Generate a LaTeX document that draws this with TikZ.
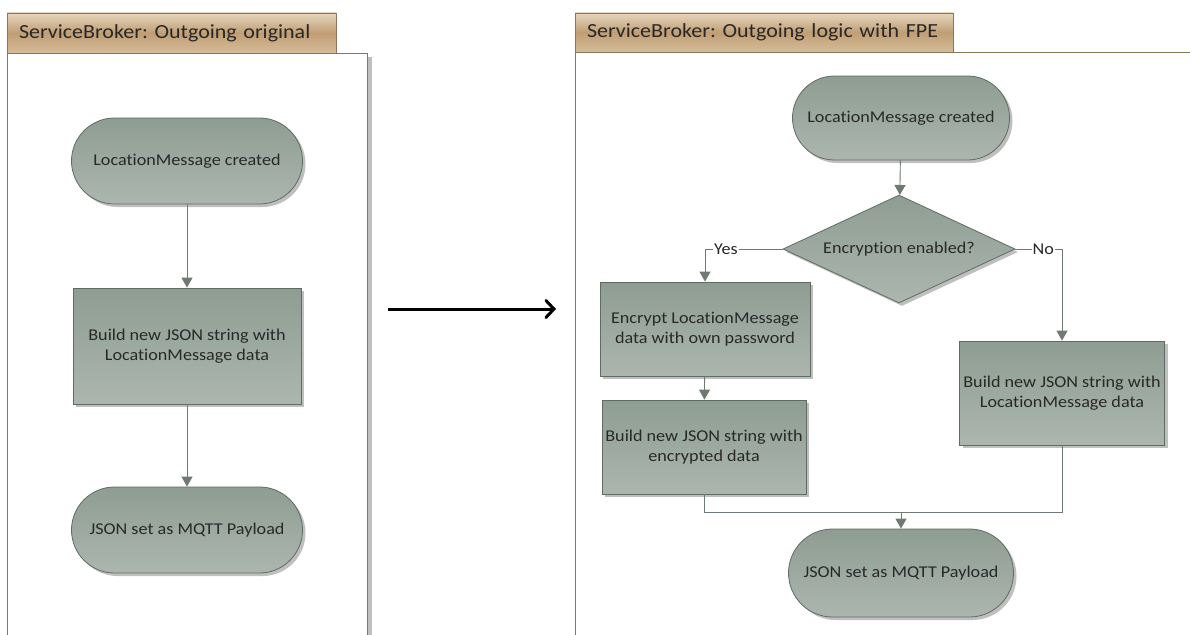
\documentclass[tikz,border=0pt]{standalone}
\usepackage{fontspec}
\setmainfont{Carlito}[Ligatures=NoCommon, FakeStretch=1.1]
\usetikzlibrary{arrows.meta,shadows,shapes.geometric}
\definecolor{nodetop}{RGB}{142,157,146}
\definecolor{nodebot}{RGB}{172,182,175}
\definecolor{nodeborder}{RGB}{95,108,99}
\definecolor{conn}{RGB}{110,122,114}
\definecolor{tabtop}{RGB}{230,214,190}
\definecolor{tabmid}{RGB}{192,158,116}
\definecolor{tabbot}{RGB}{214,188,154}
\definecolor{tabborder}{RGB}{140,118,88}
\definecolor{txt}{RGB}{40,40,40}
\tikzset{
  flowbase/.style={draw=nodeborder, line width=0.8pt, top color=nodetop, bottom color=nodebot,
    text=txt, font=\fontsize{16.5}{20}\selectfont, align=center,
    drop shadow={shadow xshift=3pt, shadow yshift=-3pt, fill=black, opacity=0.25}},
  term/.style={flowbase, rounded corners=43pt, minimum height=86pt},
  proc/.style={flowbase, rectangle},
  dec/.style={flowbase, diamond, aspect=2},
  conn/.style={draw=conn, line width=0.9pt, -{Triangle[width=11pt,length=10pt]}},
  plain/.style={draw=conn, line width=0.9pt},
  tab/.style={draw=tabborder, line width=0.8pt, top color=tabtop, bottom color=tabbot, middle color=tabmid,
    text=txt, font=\fontsize{20}{24}\selectfont, anchor=north west, inner xsep=12pt, outer sep=0pt, align=left},
  lbl/.style={fill=white, inner sep=1pt, text=txt, font=\fontsize{16.5}{20}\selectfont},
}
\begin{document}
\frenchspacing
\begin{tikzpicture}[x=1pt,y=-1pt]
\useasboundingbox (0,0) rectangle (1190,634);
\fill[white] (0,0) rectangle (1190,634);
% ---------- left panel
\fill[black!25] (367,57) rectangle (372,640);
\draw[tabborder, line width=0.8pt, fill=white] (7,640) -- (7,53) -- (367,53) -- (367,640);
\node[tab, minimum width=329pt, minimum height=40pt, text width=305pt] (tabL) at (7,13) {ServiceBroker: Outgoing original};
% ---------- right panel
\draw[tabborder, line width=0.8pt, fill=white] (575,640) -- (575,52) -- (1195,52);
\node[tab, minimum width=378pt, minimum height=39pt, text width=354pt] (tabR) at (575,13) {ServiceBroker: Outgoing logic with FPE};
% ---------- left flow
\node[term, minimum width=231pt] (l1) at (187,161) {LocationMessage created};
\node[proc, minimum width=228pt, minimum height=116pt] (l2) at (187,346) {Build new JSON string with\\LocationMessage data};
\node[term, minimum width=231pt] (l3) at (187,530) {JSON set as MQTT Payload};
\draw[conn] (l1) -- (l2);
\draw[conn] (l2) -- (l3);
% ---------- middle arrow
\coordinate (a1) at (388,309);
\coordinate (a2) at (556,309);
\draw[black, line width=3pt, -{Straight Barb[length=8pt,width=17pt,line cap=round]}] (a1) -- (a2);
% ---------- right flow
\node[term, minimum width=217pt, minimum height=84pt, rounded corners=42pt] (r1) at (901,118) {LocationMessage created};
\node[dec, minimum width=232pt, minimum height=108pt, inner sep=0pt] (d) at (899,249) {Encryption enabled?};
\node[proc, minimum width=210pt, minimum height=94pt] (e1) at (705,329) {Encrypt LocationMessage\\data with own password};
\node[proc, minimum width=204pt, minimum height=94pt] (e2) at (704,447) {Build new JSON string with\\encrypted data};
\node[proc, minimum width=205pt, minimum height=104pt] (n1) at (1062,393) {Build new JSON string with\\LocationMessage data};
\node[term, minimum width=225pt, minimum height=88pt, rounded corners=44pt] (r2) at (901,573) {JSON set as MQTT Payload};
\coordinate (yc) at (705,249);
\coordinate (nc) at (1062,249);
\coordinate (m) at (901,512);
\draw[conn] (r1) -- (d);
\draw[conn] (d.west) -- node[lbl, pos=0.73] {Yes} (yc) -- (e1.north);
\draw[conn] (d.east) -- node[lbl, pos=0.6] {No} (nc) -- (n1.north);
\draw[conn] (e1) -- (e2);
\draw[plain] (e2.south) |- (m);
\draw[plain] (n1.south) |- (m);
\draw[conn] (m) -- (r2);
\end{tikzpicture}
\end{document}
